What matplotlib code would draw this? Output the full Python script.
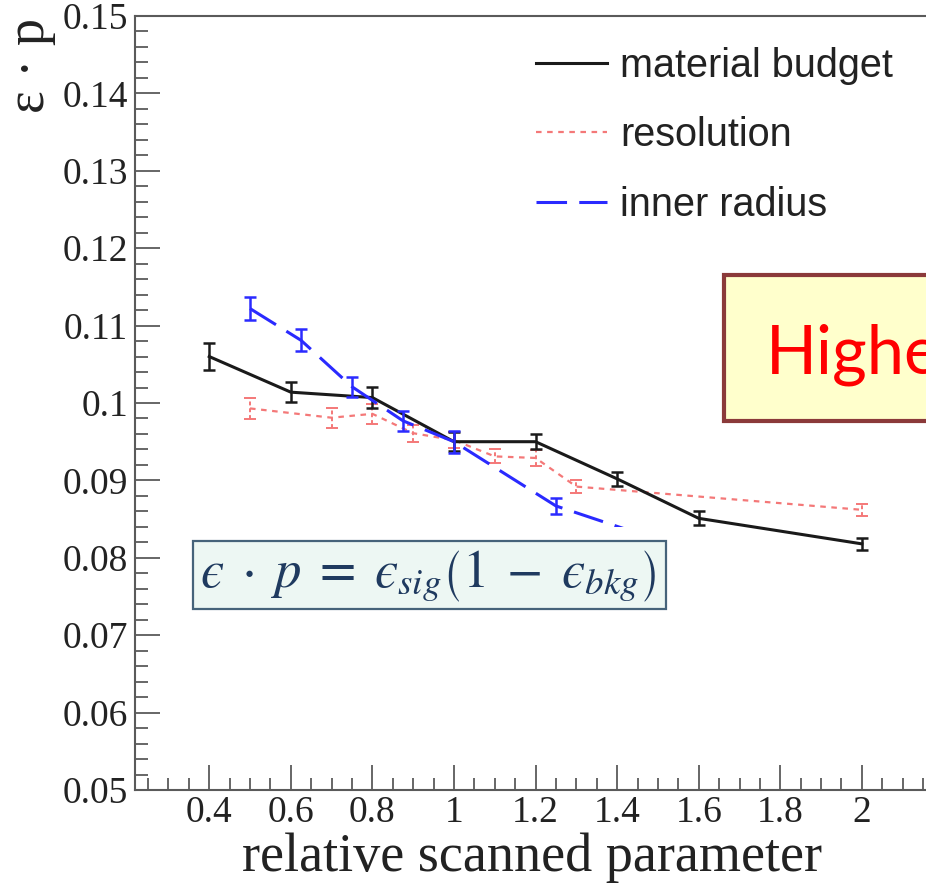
import matplotlib
matplotlib.use('Agg')
import matplotlib.pyplot as plt
from matplotlib.lines import Line2D
from matplotlib.patches import Rectangle
from matplotlib.ticker import MultipleLocator, FormatStrFormatter

# efficiency x purity vs. relative value of each scanned detector parameter
x_mat = [0.4, 0.6, 0.8, 1.0, 1.2, 1.4, 1.6, 2.0]
y_mat = [0.1060, 0.1014, 0.1007, 0.0950, 0.0950, 0.0902, 0.0851, 0.0818]
e_mat = [0.0018, 0.0013, 0.0014, 0.0012, 0.0010, 0.0009, 0.0009, 0.0008]

x_res = [0.5, 0.7, 0.8, 0.9, 1.0, 1.1, 1.2, 1.3, 2.0]
y_res = [0.0993, 0.0981, 0.0986, 0.0961, 0.0952, 0.0931, 0.0929, 0.0892, 0.0862]
e_res = [0.0014, 0.0013, 0.0013, 0.0011, 0.0010, 0.0009, 0.0010, 0.0008, 0.0008]

x_rad = [0.5, 0.625, 0.75, 0.875, 1.0, 1.25, 1.5]
y_rad = [0.1122, 0.1081, 0.1021, 0.0977, 0.0950, 0.0867, 0.0823]
e_rad = [0.0015, 0.0014, 0.0013, 0.0013, 0.0014, 0.0010, 0.0010]

labels = ['material budget', 'resolution', 'inner radius']

W, H = 926, 889
serif = 'Liberation Serif'
sans = 'Liberation Sans'

fig = plt.figure(figsize=(W / 100, H / 100), dpi=100)

def px(x, y):
    # pixel position (from top left) -> figure fraction
    return x / W, 1 - y / H

ax = fig.add_axes([135 / W, 1 - 790 / H, (930 - 135) / W, (790 - 16) / H])
ax.set_xlim(0.218, 2.167)
ax.set_ylim(0.05, 0.15)

col_mat = '#1a1a1a'
col_res = '#f47878'
col_rad = '#2a2aff'
ls_res = (0, (2.5, 2.5))
ls_rad = (0, (10, 4))

eb = ax.errorbar(x_mat, y_mat, yerr=e_mat, color=col_mat, lw=2.2,
                 elinewidth=1.8, capsize=4, capthick=1.8, zorder=3)
eb = ax.errorbar(x_res, y_res, yerr=e_res, color=col_res, lw=1.6, ls=ls_res,
                 elinewidth=1.4, capsize=4, capthick=1.4, zorder=2)
eb[2][0].set_linestyle((0, (2, 1.5)))
eb = ax.errorbar(x_rad, y_rad, yerr=e_rad, color=col_rad, lw=2.2, ls=ls_rad,
                 elinewidth=1.8, capsize=4, capthick=1.8, zorder=4)

# axes in ROOT style: ticks inside, grey frame
for s in ['left', 'bottom', 'top']:
    ax.spines[s].set_color('#5a5a5a')
    ax.spines[s].set_linewidth(1.5)
ax.spines['right'].set_visible(False)

ax.xaxis.set_major_locator(MultipleLocator(0.2))
ax.xaxis.set_minor_locator(MultipleLocator(0.05))
ax.yaxis.set_major_locator(MultipleLocator(0.01))
ax.yaxis.set_minor_locator(MultipleLocator(0.002))
ax.xaxis.set_major_formatter(FormatStrFormatter('%g'))
ax.yaxis.set_major_formatter(FormatStrFormatter('%g'))
ax.tick_params(which='both', direction='in', color='#5a5a5a', width=1.3,
               labelsize=27, labelcolor='#222222')
ax.tick_params(which='major', length=18)
ax.tick_params(which='minor', length=9)
ax.tick_params(axis='y', pad=5)
ax.tick_params(axis='x', pad=4)
for t in ax.get_xticklabels() + ax.get_yticklabels():
    t.set_fontfamily(serif)

fig.text(*px(532, 858), 'relative scanned parameter', fontsize=39,
         family=serif, color='#222222', ha='center', va='center')
fig.text(*px(31, 18), 'ε · p', fontsize=39, family=serif, color='#222222',
         rotation=90, ha='center', va='top')

handles = [Line2D([], [], color=col_mat, lw=2.2),
           Line2D([], [], color=col_res, lw=1.6, ls=ls_res),
           Line2D([], [], color=col_rad, lw=2.2, ls=ls_rad)]
leg = fig.legend(handles, labels, loc='upper left', bbox_to_anchor=px(536, 47),
                 frameon=False, borderpad=0, borderaxespad=0,
                 prop={'family': sans, 'size': 28.5}, handlelength=1.8,
                 handletextpad=0.32, labelspacing=0.79)
for t in leg.get_texts():
    t.set_color('#222222')

# formula box, drawn on a white patch
fig.patches.append(Rectangle(px(179, 623), 501 / W, 96 / H, transform=fig.transFigure,
                             facecolor='white', edgecolor='none', zorder=5))
fig.patches.append(Rectangle(px(193, 609), 473 / W, 68 / H, transform=fig.transFigure,
                             facecolor='#edf7f3', edgecolor='#46637a', lw=1.6, zorder=6))
fig.text(*px(428, 576),
         '$\u03f5\\;\\cdot\\;p\\;=\\;\u03f5_{sig}\\left(1\\;-\\;\u03f5_{bkg}\\right)$',
         math_fontfamily='stix', fontsize=38, color='#1f3a5f',
         ha='center', va='center', zorder=7)

# note box on the right
fig.patches.append(Rectangle(px(724, 421), 300 / W, 146 / H, transform=fig.transFigure,
                             facecolor='#ffffcc', edgecolor='#8b3a3a', lw=3, zorder=5))
fig.text(*px(766, 373), 'Higher', fontsize=48, family='Lato', color='#ff0000',
         ha='left', va='baseline', zorder=7)

fig.savefig('out.png', dpi=100)
